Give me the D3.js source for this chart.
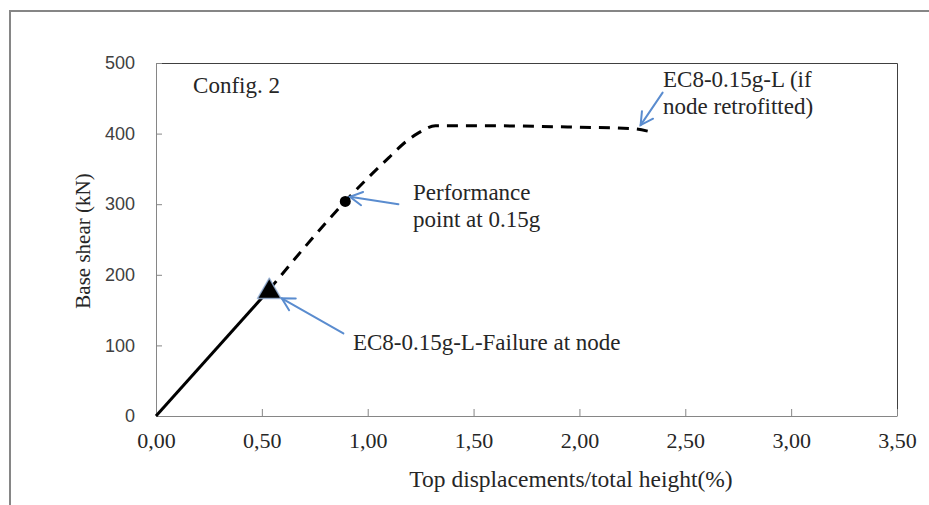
<!DOCTYPE html>
<html>
<head>
<meta charset="utf-8">
<script src="https://cdn.jsdelivr.net/npm/d3@7"></script>
<style>
  body { margin: 0; background: #fff; }
  svg { display: block; }
</style>
</head>
<body>
<div class="chart"></div>
<script>
// pushover curve (x: % drift, y: kN)
var elasticX = [0, 0.535];
var elasticY = [0, 179];
var retrofitX = [0.535, 0.894, 1.0, 1.1, 1.17, 1.24, 1.32, 1.6, 2.0, 2.25, 2.33];
var retrofitY = [179, 304, 337, 366, 386, 401, 411, 411, 409, 407, 403];
var failurePoint = [0.535, 179];
var perfPoint = [0.894, 304];
var xTicks = [0, 0.5, 1, 1.5, 2, 2.5, 3, 3.5];
var yTicks = [0, 100, 200, 300, 400, 500];

// annotation texts (anchor in data units) and arrows (tail -> head)
var notes = [
  { lines: ["Config. 2"], x: 0.175, y: 457 },
  { lines: ["Performance", "point at 0.15g"], x: 1.214, y: 306 },
  { lines: ["EC8-0.15g-L-Failure at node"], x: 0.93, y: 93.5 },
  { lines: ["EC8-0.15g-L (if", "node retrofitted)"], x: 2.395, y: 466 }
];
var arrows = [
  { x1: 0.885, y1: 117, x2: 0.594, y2: 166.7 },
  { x1: 1.145, y1: 300, x2: 0.916, y2: 310.6 },
  { x1: 2.393, y1: 458, x2: 2.289, y2: 412 }
];

var W = 929, H = 505;
var plot = { left: 156, right: 897, top: 63, bottom: 416 };
var serif = "'Liberation Serif', serif";

var svg = d3.select(".chart")
  .append("svg")
    .attr("width", W)
    .attr("height", H);

// chart frame
svg.append("path")
  .attr("d", "M10," + (H + 5) + "V11H" + (W + 5))
  .attr("fill", "none")
  .attr("stroke", "#868686")
  .attr("stroke-width", 2);

var x = d3.scaleLinear().domain([0, 3.5]).range([plot.left, plot.right]);
var y = d3.scaleLinear().domain([0, 500]).range([plot.bottom, plot.top]);

// plot area border (top / right)
svg.append("path")
  .attr("d", "M" + plot.left + "," + (plot.top + 0.5) + "H" + (plot.right + 0.5) + "V" + plot.bottom)
  .attr("fill", "none")
  .attr("stroke", "#404040")
  .attr("stroke-width", 1);

// x axis, ticks pointing in
var xAxis = svg.append("g")
  .attr("transform", "translate(0," + plot.bottom + ")")
  .call(d3.axisBottom(x).tickValues(xTicks).tickSizeInner(-7).tickSizeOuter(0)
    .tickFormat(function(d) { return d3.format(".2f")(d).replace(".", ","); }));
xAxis.select(".domain").attr("stroke", "#868686");
xAxis.selectAll(".tick line").attr("stroke", "#868686");
xAxis.selectAll(".tick text")
  .attr("y", 32)
  .attr("dy", 0)
  .style("font-family", serif)
  .style("font-size", "22px")
  .attr("fill", "#262626");

// y axis, ticks pointing in
var yAxis = svg.append("g")
  .attr("transform", "translate(" + plot.left + ",0)")
  .call(d3.axisLeft(y).tickValues(yTicks).tickSizeInner(-6).tickSizeOuter(0));
yAxis.select(".domain").attr("stroke", "#868686");
yAxis.selectAll(".tick line").attr("stroke", "#868686");
yAxis.selectAll(".tick text")
  .attr("x", -21)
  .style("font-family", "'Liberation Sans', sans-serif")
  .style("font-size", "18px")
  .attr("fill", "#404040");

// axis titles
svg.append("text")
  .attr("transform", "translate(" + 571 + "," + 487 + ")")
  .style("text-anchor", "middle")
  .style("font-family", serif)
  .style("font-size", "23.5px")
  .attr("fill", "#262626")
  .text("Top displacements/total height(%)");

svg.append("text")
  .attr("transform", "translate(" + 90 + "," + 241 + ") rotate(-90)")
  .style("text-anchor", "middle")
  .style("font-family", serif)
  .style("font-size", "21px")
  .attr("fill", "#262626")
  .text("Base shear (kN)");

// curves
var line = d3.line()
  .x(function(d) { return x(d[0]); })
  .y(function(d) { return y(d[1]); });

svg.append("path")
  .datum(d3.zip(retrofitX, retrofitY))
  .attr("d", line.curve(d3.curveMonotoneX))
  .attr("fill", "none")
  .attr("stroke", "#000")
  .attr("stroke-width", 3)
  .attr("stroke-dasharray", "11,8");

svg.append("path")
  .datum(d3.zip(elasticX, elasticY))
  .attr("d", d3.line().x(function(d) { return x(d[0]); }).y(function(d) { return y(d[1]); }))
  .attr("fill", "none")
  .attr("stroke", "#000")
  .attr("stroke-width", 3);

// markers
svg.append("path")
  .attr("d", d3.symbol().type(d3.symbolTriangle).size(240))
  .attr("transform", "translate(" + x(failurePoint[0]) + "," + (y(failurePoint[1]) + 2) + ")")
  .attr("fill", "#000")
  .attr("stroke", "#9ab5dc")
  .attr("stroke-opacity", 0.8)
  .attr("stroke-width", 1.5)
  .attr("stroke-linejoin", "round");

svg.append("circle")
  .attr("cx", x(perfPoint[0]))
  .attr("cy", y(perfPoint[1]))
  .attr("r", 5.5)
  .attr("fill", "#000");

// arrows
var blue = "#5a8ccf";
arrows.forEach(function(a) {
  var x1 = x(a.x1), y1 = y(a.y1), x2 = x(a.x2), y2 = y(a.y2);
  var ang = Math.atan2(y1 - y2, x1 - x2);
  var len = 14, spread = 0.5;
  var g = svg.append("g")
    .attr("stroke", blue)
    .attr("stroke-width", 2)
    .attr("fill", "none")
    .attr("stroke-linecap", "round");
  g.append("line").attr("x1", x1).attr("y1", y1).attr("x2", x2).attr("y2", y2);
  g.append("path")
    .attr("d", "M" + (x2 + len * Math.cos(ang + spread)) + "," + (y2 + len * Math.sin(ang + spread)) +
      "L" + x2 + "," + y2 +
      "L" + (x2 + len * Math.cos(ang - spread)) + "," + (y2 + len * Math.sin(ang - spread)));
});

// annotation text
notes.forEach(function(n) {
  var t = svg.append("text")
    .attr("x", x(n.x))
    .attr("y", y(n.y))
    .style("font-family", serif)
    .style("font-size", "23px")
    .attr("fill", "#262626");
  n.lines.forEach(function(s, i) {
    t.append("tspan")
      .attr("x", x(n.x))
      .attr("dy", i === 0 ? 0 : 27)
      .text(s);
  });
});
</script>
</body>
</html>
